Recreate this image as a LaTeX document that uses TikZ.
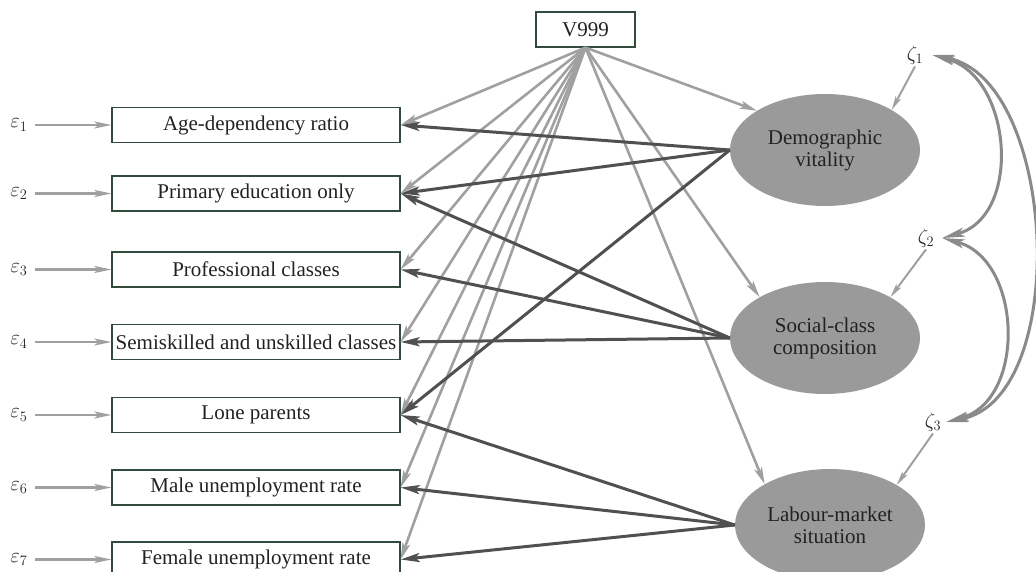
\documentclass[tikz,border=0pt]{standalone}
\usepackage{fontspec}
\setmainfont{Liberation Serif}
\usetikzlibrary{shapes.geometric,arrows.meta}
\definecolor{boxc}{RGB}{50,75,60}
\definecolor{lg}{RGB}{160,160,160}
\definecolor{dg}{RGB}{80,80,80}
\definecolor{eg}{RGB}{154,154,154}
\definecolor{cg}{RGB}{138,138,138}
\definecolor{txt}{RGB}{34,34,34}
\begin{document}
\begin{tikzpicture}[x=1pt,y=-1pt,
  obs/.style={draw=boxc,line width=1.2pt,minimum width=288pt,minimum height=35pt,inner sep=0pt,text=txt,font=\fontsize{21}{24}\selectfont},
  lat/.style={ellipse,fill=eg,minimum width=190pt,minimum height=112pt,inner sep=0pt,align=center,text=txt,font=\fontsize{21}{22}\selectfont},
  lbl/.style={inner sep=2pt,text=txt,font=\fontsize{21}{24}\selectfont},
  ga/.style={draw=lg,line width=2.6pt,-{Stealth[length=17pt,width=8pt,inset=4pt]}},
  da/.style={draw=dg,line width=3pt,-{Stealth[length=19pt,width=9pt,inset=4pt]}},
  ea/.style={draw=lg,line width=2.4pt,-{Stealth[length=17pt,width=7pt,inset=4pt]}},
  za/.style={draw=lg,line width=2pt,-{Stealth[length=14pt,width=6pt,inset=3pt]}},
  ca/.style={draw=cg,line width=3pt,{Stealth[length=22pt,width=9pt,inset=5pt]}-{Stealth[length=22pt,width=9pt,inset=5pt]}}]
\useasboundingbox (0,0) rectangle (1036,572);
\clip (0,0) rectangle (1036,572);

% observed variables
\node[obs] (b1) at (256,125) {Age-dependency ratio};
\node[obs] (b2) at (256,193.5) {Primary education only};
\node[obs] (b3) at (256,269.5) {Professional classes};
\node[obs] (b4) at (256,342) {Semiskilled and unskilled classes};
\node[obs] (b5) at (256,415) {Lone parents};
\node[obs] (b6) at (256,487.5) {Male unemployment rate};
\node[obs] (b7) at (256,559.5) {Female unemployment rate};

% errors
\node[lbl] (e1) at (19,125) {$\varepsilon_1$};
\node[lbl] (e2) at (19,193.5) {$\varepsilon_2$};
\node[lbl] (e3) at (19,269.5) {$\varepsilon_3$};
\node[lbl] (e4) at (19,342) {$\varepsilon_4$};
\node[lbl] (e5) at (19,415) {$\varepsilon_5$};
\node[lbl] (e6) at (19,487.5) {$\varepsilon_6$};
\node[lbl] (e7) at (19,559.5) {$\varepsilon_7$};

% V999
\node[obs,minimum width=99pt] (v) at (585.5,29.5) {V999};

% latent variables
\node[lat] (d) at (825,150) {Demographic\\vitality};
\node[lat] (s) at (825,338) {Social-class\\composition};
\node[lat] (l) at (830,525) {Labour-market\\situation};

% disturbances
\node[lbl] (z1) at (915,55) {$\zeta_1$};
\node[lbl] (z2) at (926,238) {$\zeta_2$};
\node[lbl] (z3) at (933,422) {$\zeta_3$};

% error arrows
\foreach \i in {1,...,7}{
  \draw[ea] ([xshift=5pt]e\i.east) -- (b\i.west);
}

% V999 arrows
\foreach \i in {1,...,7}{
  \draw[ga] (v.south) -- (b\i.east);
}
\draw[ga] (v.south) -- (d.150);
\draw[ga] (v.south) -- (s.148);
\draw[ga] (v.south) -- (l.148);

% disturbance arrows
\draw[za] (z1.south) -- (d.31);
\draw[za] (z2.south) -- (s.32);
\draw[za] (z3.south) -- (l.31);

% covariances
\draw[ca] ([xshift=7pt]z1.east) .. controls +(80,22) and +(80,-22) .. ([xshift=6pt]z2.east);
\draw[ca] ([xshift=7pt]z1.east) .. controls +(125,25) and +(125,-25) .. ([xshift=3pt]z3.east);
\draw[ca] ([xshift=6pt]z2.east) .. controls +(80,22) and +(80,-22) .. ([xshift=3pt]z3.east);

% loadings
\draw[da] (d.west) -- (b1.east);
\draw[da] (d.west) -- (b2.east);
\draw[da] (d.west) -- (b5.east);
\draw[da] (s.west) -- (b2.east);
\draw[da] (s.west) -- (b3.east);
\draw[da] (s.west) -- (b4.east);
\draw[da] (l.west) -- (b5.east);
\draw[da] (l.west) -- (b6.east);
\draw[da] (l.west) -- (b7.east);
\end{tikzpicture}
\end{document}
